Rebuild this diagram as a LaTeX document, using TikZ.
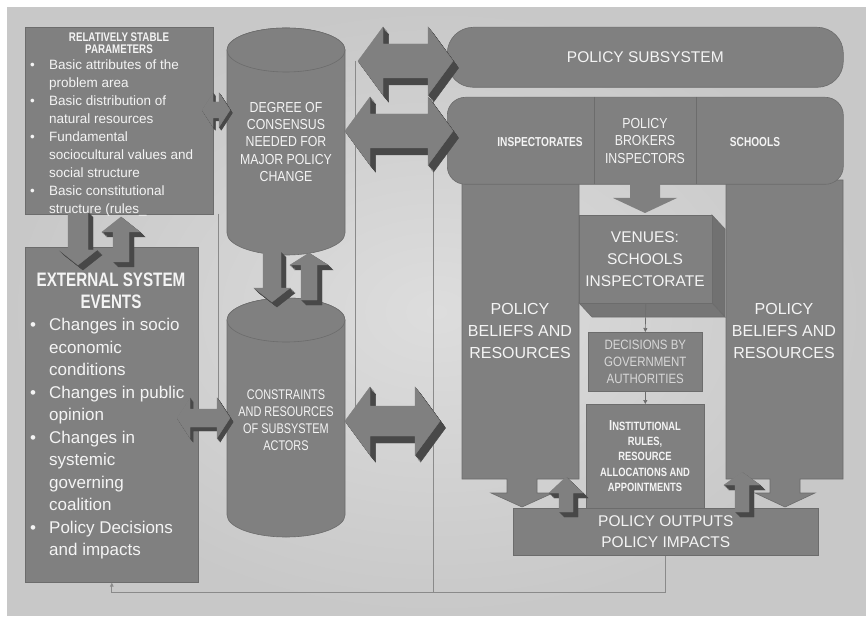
\documentclass[tikz,border=0pt]{standalone}
\usepackage{fontspec}
\setmainfont{Liberation Sans}
\newfontfamily\narrowfont[FakeStretch=0.85]{Liberation Sans}
\newfontfamily\condfont[FakeStretch=0.78]{Liberation Sans}
\usetikzlibrary{positioning,calc,arrows.meta}

\definecolor{slidebg}{HTML}{C8C8C8}
\definecolor{slidemid}{HTML}{DDDDDD}
\definecolor{boxgray}{HTML}{808080}
\definecolor{boxedge}{HTML}{6C6C6C}
\definecolor{arrowdark}{HTML}{484848}
\definecolor{linegray}{HTML}{8A8A8A}
\definecolor{paletext}{HTML}{F4F4F4}
\definecolor{softtext}{HTML}{D8D8D8}

\tikzset{
  darkbox/.style={draw=boxedge, fill=boxgray, line width=0.6pt, inner sep=0pt, anchor=north west},
  boxtext/.style={text=paletext, align=center, inner sep=0pt},
  listtext/.style={text=paletext, align=left, inner sep=0pt, anchor=west},
  thinline/.style={draw=linegray, line width=0.8pt},
  thinarrow/.style={draw=boxedge, line width=0.6pt, -{Triangle[length=4pt,width=4pt]}},
}

\newcommand{\bul}{\makebox[20pt][l]{\hspace{1pt}\textbullet}}
\newcommand{\ind}{\hspace*{20pt}}

% block arrow up or down: x, tail y, head base y, tip y, shaft half, head half, depth
\newcommand{\varrow}[7]{%
  \foreach \k/\col in {1/arrowdark, 0.85/arrowdark, 0.7/arrowdark, 0.55/arrowdark,
      0.4/arrowdark, 0.25/arrowdark, 0.1/arrowdark, 0/boxgray}
    \filldraw[fill=\col, draw=\col, line width=0.4pt, shift={({\k*#7},{\k*#7})}]
      ({#1-#5},#2) -- ({#1+#5},#2) -- ({#1+#5},#3) -- ({#1+#6},#3) -- (#1,#4)
      -- ({#1-#6},#3) -- ({#1-#5},#3) -- cycle;}

% double block arrow left-right: x1, x2, y, shaft half, head half, head length, depth
\newcommand{\harrow}[7]{%
  \foreach \k/\col in {1/arrowdark, 0.85/arrowdark, 0.7/arrowdark, 0.55/arrowdark,
      0.4/arrowdark, 0.25/arrowdark, 0.1/arrowdark, 0/boxgray}
    \filldraw[fill=\col, draw=\col, line width=0.4pt, shift={({\k*#7*0.8},{\k*#7})}]
      (#1,#3) -- ({#1+#6},{#3-#5}) -- ({#1+#6},{#3-#4}) -- ({#2-#6},{#3-#4})
      -- ({#2-#6},{#3-#5}) -- (#2,#3) -- ({#2-#6},{#3+#5}) -- ({#2-#6},{#3+#4})
      -- ({#1+#6},{#3+#4}) -- ({#1+#6},{#3+#5}) -- cycle;}

\begin{document}
\begin{tikzpicture}[x=1pt, y=-1pt]
  \useasboundingbox (0,0) rectangle (866,617);
  \shade[inner color=slidemid, outer color=slidebg] (7,8) rectangle (866,615);

  % left column
  \node[darkbox, minimum width=188pt, minimum height=187pt] (stable) at (25,27) {};
  \node[darkbox, minimum width=173pt, minimum height=335pt] (external) at (25,247) {};

  % thin connectors
  \coordinate (topjoin) at (433,61);
  \coordinate (midjoin) at (355,61);
  \coordinate (actorsjoin) at (355,421);
  \coordinate (stablejoin) at (218,214);
  \coordinate (extjoin) at (218,418);
  \draw[thinline] (midjoin) -- (actorsjoin);
  \draw[thinline] (stablejoin) -- (extjoin);

  % cylinders
  \filldraw[fill=boxgray, draw=boxedge, line width=0.6pt] (227,50) -- (227,233)
    arc[start angle=180, end angle=0, x radius=59, y radius=22] -- (345,50)
    arc[start angle=0, end angle=-180, x radius=59, y radius=22] -- cycle;
  \filldraw[fill=boxgray, draw=boxedge, line width=0.6pt] (286,50) ellipse[x radius=59, y radius=22];
  \filldraw[fill=boxgray, draw=boxedge, line width=0.6pt] (227,320) -- (227,515)
    arc[start angle=180, end angle=0, x radius=59, y radius=22] -- (345,320)
    arc[start angle=0, end angle=-180, x radius=59, y radius=22] -- cycle;
  \filldraw[fill=boxgray, draw=boxedge, line width=0.6pt] (286,320) ellipse[x radius=59, y radius=22];

  % policy subsystem
  \node[darkbox, rounded corners=26pt, minimum width=396pt, minimum height=60pt] (subsystem) at (447,27) {};
  \filldraw[fill=boxgray, draw=boxedge, line width=0.6pt]
    (462,180) -- (579,180) -- (579,479) -- (537,479) -- (537,493) -- (553,493) -- (522,507)
    -- (491,493) -- (507,493) -- (507,479) -- (462,479) -- cycle;
  \filldraw[fill=boxgray, draw=boxedge, line width=0.6pt]
    (726,180) -- (843,180) -- (843,479) -- (800,479) -- (800,493) -- (815,493) -- (785,507)
    -- (755,493) -- (770,493) -- (770,479) -- (726,479) -- cycle;
  \node[darkbox, rounded corners=18pt, minimum width=396pt, minimum height=87pt] (actors) at (447,97) {};
  \draw[boxedge, line width=0.6pt] (594,97) -- (594,184) (696,97) -- (696,184);
  \fill[boxgray] (630,183) -- (660,183) -- (660,198) -- (677,198) -- (645,213) -- (613,198) -- (630,198) -- cycle;

  % venues cube
  \filldraw[fill=boxgray!88!black, draw=boxedge, line width=0.6pt] (712,215) -- (725,229) -- (725,317) -- (712,303) -- cycle;
  \filldraw[fill=boxgray!92!black, draw=boxedge, line width=0.6pt] (579,303) -- (712,303) -- (725,317) -- (592,317) -- cycle;
  \node[darkbox, minimum width=133pt, minimum height=88pt] (venues) at (579,215) {};
  \node[darkbox, minimum width=114pt, minimum height=59pt] (decisions) at (588,332) {};
  \node[darkbox, minimum width=118pt, minimum height=106pt] (institutional) at (586,404) {};
  \node[darkbox, minimum width=305pt, minimum height=47pt] (outputs) at (513,508) {};

  \draw[thinarrow] (venues.south) -- (decisions.north);
  \draw[thinarrow] (decisions.south) -- (institutional.north);
  \draw[thinline] (topjoin) -- (433,592);
  \draw[thinline, -{Triangle[length=4pt,width=3.5pt]}] (outputs.south) -- ++(0,37) -| (external.south);

  % block arrows
  \harrow{358}{453}{61}{17}{34}{25}{7}
  \harrow{345}{453}{131}{17}{34}{25}{7}
  \harrow{345}{440}{421}{15}{34}{25}{7}
  \harrow{202}{230}{110}{8}{17}{11}{3}
  \harrow{177}{230}{418}{9}{20}{13}{4}
  \varrow{78}{212}{250}{265}{10}{19}{5}
  \varrow{121}{262}{232}{217}{8}{19}{5}
  \varrow{272}{252}{288}{302}{9}{18}{5}
  \varrow{309}{300}{265}{253}{8}{19}{5}
  \varrow{566}{512}{493}{477}{7}{17}{5}
  \varrow{742}{512}{485}{472}{7}{18}{5}

  % texts
  \node[boxtext, font=\condfont\bfseries\fontsize{12.5}{11.5}\selectfont] (stabletitle) at (119,43) {RELATIVELY STABLE\\PARAMETERS};
  \node[listtext, font=\fontsize{13.5}{17.9}\selectfont] (stablelist) at (29,138) {%
    \bul Basic attributes of the\\ \ind problem area\\
    \bul Basic distribution of\\ \ind natural resources\\
    \bul Fundamental\\ \ind sociocultural values and\\ \ind social structure\\
    \bul Basic constitutional\\ \ind structure (rules\_};
  \node[boxtext, font=\condfont\bfseries\fontsize{19.5}{22.5}\selectfont] (exttitle) at (111,291) {EXTERNAL SYSTEM\\EVENTS};
  \node[listtext, font=\fontsize{17}{22.5}\selectfont] (extlist) at (29,439) {%
    \bul Changes in socio\\ \ind economic\\ \ind conditions\\
    \bul Changes in public\\ \ind opinion\\
    \bul Changes in\\ \ind systemic\\ \ind governing\\ \ind coalition\\
    \bul Policy Decisions\\ \ind and impacts};
  \node[boxtext, font=\narrowfont\fontsize{14.5}{17.2}\selectfont] (consensus) at (286,142) {DEGREE OF\\CONSENSUS\\NEEDED FOR\\MAJOR POLICY\\CHANGE};
  \node[boxtext, font=\condfont\fontsize{14}{17.2}\selectfont] (constraints) at (286,420) {CONSTRAINTS\\AND RESOURCES\\OF SUBSYSTEM\\ACTORS};
  \node[boxtext, font=\fontsize{15.5}{18}\selectfont] (subsystemtext) at (subsystem.center) {POLICY SUBSYSTEM};
  \node[boxtext, font=\condfont\bfseries\fontsize{13}{14}\selectfont] (inspectorates) at (540,142) {INSPECTORATES};
  \node[boxtext, font=\narrowfont\fontsize{14.5}{17.3}\selectfont] (brokers) at (645,141) {POLICY\\BROKERS\\INSPECTORS};
  \node[boxtext, font=\condfont\bfseries\fontsize{13}{14}\selectfont] (schools) at (755,142) {SCHOOLS};
  \node[boxtext, font=\fontsize{16}{22.2}\selectfont] (beliefsleft) at (520,331) {POLICY\\BELIEFS AND\\RESOURCES};
  \node[boxtext, font=\fontsize{16}{22.2}\selectfont] (beliefsright) at (784,331) {POLICY\\BELIEFS AND\\RESOURCES};
  \node[boxtext, font=\fontsize{15.5}{21.7}\selectfont] (venuestext) at (645,259) {VENUES:\\SCHOOLS\\INSPECTORATE};
  \node[boxtext, text=softtext, font=\narrowfont\fontsize{13.5}{17.3}\selectfont] (decisionstext) at (decisions.center) {DECISIONS BY\\GOVERNMENT\\AUTHORITIES};
  \node[boxtext, font=\condfont\bfseries\fontsize{12}{15.3}\selectfont] (institutionaltext) at (645,456) {{\fontsize{14.5}{15.3}\selectfont I}NSTITUTIONAL\\RULES,\\RESOURCE\\ALLOCATIONS AND\\APPOINTMENTS};
  \node[boxtext, font=\fontsize{15.5}{21.7}\selectfont] (outputstext) at (outputs.center) {POLICY OUTPUTS\\POLICY IMPACTS};
\end{tikzpicture}
\end{document}
